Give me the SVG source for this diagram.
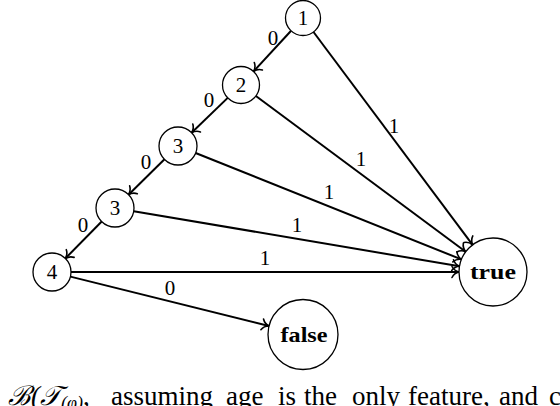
<svg xmlns="http://www.w3.org/2000/svg" width="560" height="406" viewBox="0 0 560 406">
<defs>
<style>
.node{fill:#fff;stroke:#000;stroke-width:1.3}
.edge{stroke:#000;stroke-width:2;fill:none;marker-end:url(#arr)}
.nl{font-family:"Liberation Serif","DejaVu Serif",serif;font-size:21px;text-anchor:middle;fill:#000}
.bl{font-family:"Liberation Serif","DejaVu Serif",serif;font-size:22px;font-weight:bold;text-anchor:middle;fill:#000}
.el{font-family:"Liberation Serif","DejaVu Serif",serif;font-size:21px;text-anchor:middle;fill:#000}
.cap{font-family:"Liberation Serif","DejaVu Serif",serif;font-size:27px;fill:#000}
</style>
<marker id="arr" markerUnits="userSpaceOnUse" markerWidth="16" markerHeight="16" viewBox="-10 -8 12 16" refX="0" refY="0" orient="auto">
<path d="M-7,-5.5 C-5.5,-2.5 -2.5,-0.6 0,0 C-2.5,0.6 -5.5,2.5 -7,5.5" fill="none" stroke="#000" stroke-width="1.6" stroke-linecap="round"/>
</marker>
</defs>
<rect width="560" height="406" fill="#fff"/>
<g id="connectors">
<path class="edge" d="M291.1,30.8 L253.6,71.4"/>
<path class="edge" d="M227.7,97.9 L191.6,132.8"/>
<path class="edge" d="M164.5,159.3 L128.5,194.7"/>
<path class="edge" d="M101.7,221.5 L65.3,258.5"/>
<path class="edge" d="M313.5,32 L472.6,244.8"/>
<path class="edge" d="M255.9,96 L465.7,251.7"/>
<path class="edge" d="M195.6,153 L461.4,259.4"/>
<path class="edge" d="M133.7,211.2 L459.5,266.3"/>
<path class="edge" d="M71,272 L459,272"/>
<path class="edge" d="M70.4,276.6 L269,326"/>
<text class="el" x="273" y="45">0</text>
<text class="el" x="209" y="107">0</text>
<text class="el" x="146" y="169">0</text>
<text class="el" x="83" y="232">0</text>
<text class="el" x="394" y="133">1</text>
<text class="el" x="361" y="166">1</text>
<text class="el" x="329" y="199">1</text>
<text class="el" x="297" y="232">1</text>
<text class="el" x="265" y="265">1</text>
<text class="el" x="170" y="295">0</text>
</g>
<g id="n1"><circle class="node" cx="303" cy="18" r="17.5"/><text class="nl" x="303" y="25">1</text></g>
<g id="n2"><circle class="node" cx="241" cy="85" r="18.5"/><text class="nl" x="241" y="92">2</text></g>
<g id="n3a"><circle class="node" cx="178" cy="146" r="19"/><text class="nl" x="178" y="153">3</text></g>
<g id="n3b"><circle class="node" cx="115" cy="208" r="19"/><text class="nl" x="115" y="215">3</text></g>
<g id="n4"><circle class="node" cx="52" cy="272" r="19"/><text class="nl" x="52" y="279">4</text></g>
<g id="ntrue"><circle class="node" cx="493" cy="272" r="34"/><text class="bl" x="493" y="279" textLength="46" lengthAdjust="spacingAndGlyphs">true</text></g>
<g id="nfalse"><circle class="node" cx="303" cy="334.5" r="35"/><text class="bl" x="304" y="342" textLength="47" lengthAdjust="spacingAndGlyphs">false</text></g>
<text class="cap" y="405"><tspan x="8" font-style="italic">ℬ(𝒯</tspan><tspan font-size="18" dy="4" font-style="italic">(φ)</tspan><tspan dy="-4">,</tspan><tspan x="111">assuming</tspan><tspan x="226">age</tspan><tspan x="278">is</tspan><tspan x="304">the</tspan><tspan x="352">only</tspan><tspan x="408">feature,</tspan><tspan x="499">and</tspan><tspan x="549">c</tspan></text>
</svg>
